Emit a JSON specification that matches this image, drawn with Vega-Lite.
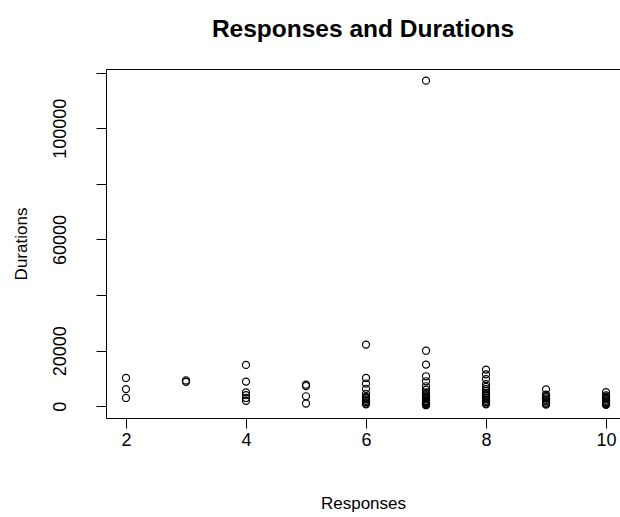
{
  "$schema": "https://vega.github.io/schema/vega-lite/v6.json",
  "autosize": "none",
  "width": 514,
  "height": 349,
  "padding": {"left": 106, "top": 69, "right": 0, "bottom": 99},
  "background": "white",
  "title": {"text": "Responses and Durations", "font": "Liberation Sans", "fontSize": 24.5, "fontWeight": "bold", "color": "black", "offset": 27, "anchor": "middle"},
  "config": {
    "view": {"stroke": "black", "strokeWidth": 1},
    "axis": {"grid": false, "domainColor": "black", "tickColor": "black", "labelColor": "black", "titleColor": "black", "labelFont": "Liberation Sans", "titleFont": "Liberation Sans", "labelFontSize": 18, "titleFontSize": 17, "titleFontWeight": "normal", "tickSize": 10, "labelFlush": false, "labelOverlap": false}
  },
  "data": {"values": [
    {"Responses": 2, "Durations": 10200}, {"Responses": 2, "Durations": 6200}, {"Responses": 2, "Durations": 3000},
    {"Responses": 3, "Durations": 9300}, {"Responses": 3, "Durations": 8800},
    {"Responses": 4, "Durations": 14900}, {"Responses": 4, "Durations": 8900}, {"Responses": 4, "Durations": 5000}, {"Responses": 4, "Durations": 4000}, {"Responses": 4, "Durations": 3000}, {"Responses": 4, "Durations": 2000},
    {"Responses": 5, "Durations": 7800}, {"Responses": 5, "Durations": 7300}, {"Responses": 5, "Durations": 3600}, {"Responses": 5, "Durations": 1000},
    {"Responses": 6, "Durations": 22200}, {"Responses": 6, "Durations": 10200}, {"Responses": 6, "Durations": 8200}, {"Responses": 6, "Durations": 6300}, {"Responses": 6, "Durations": 4500}, {"Responses": 6, "Durations": 3500}, {"Responses": 6, "Durations": 3000}, {"Responses": 6, "Durations": 2500}, {"Responses": 6, "Durations": 2000}, {"Responses": 6, "Durations": 1500}, {"Responses": 6, "Durations": 1000}, {"Responses": 6, "Durations": 700},
    {"Responses": 7, "Durations": 117100}, {"Responses": 7, "Durations": 20000}, {"Responses": 7, "Durations": 15000}, {"Responses": 7, "Durations": 10800}, {"Responses": 7, "Durations": 9000}, {"Responses": 7, "Durations": 7200}, {"Responses": 7, "Durations": 6000}, {"Responses": 7, "Durations": 5000}, {"Responses": 7, "Durations": 4500}, {"Responses": 7, "Durations": 4000}, {"Responses": 7, "Durations": 3500}, {"Responses": 7, "Durations": 3000}, {"Responses": 7, "Durations": 2500}, {"Responses": 7, "Durations": 2000}, {"Responses": 7, "Durations": 1800}, {"Responses": 7, "Durations": 1500}, {"Responses": 7, "Durations": 1200}, {"Responses": 7, "Durations": 1000}, {"Responses": 7, "Durations": 800}, {"Responses": 7, "Durations": 600}, {"Responses": 7, "Durations": 400},
    {"Responses": 8, "Durations": 13200}, {"Responses": 8, "Durations": 11500}, {"Responses": 8, "Durations": 9800}, {"Responses": 8, "Durations": 8000}, {"Responses": 8, "Durations": 7000}, {"Responses": 8, "Durations": 6200}, {"Responses": 8, "Durations": 5500}, {"Responses": 8, "Durations": 4800}, {"Responses": 8, "Durations": 4200}, {"Responses": 8, "Durations": 3600}, {"Responses": 8, "Durations": 3000}, {"Responses": 8, "Durations": 2500}, {"Responses": 8, "Durations": 2000}, {"Responses": 8, "Durations": 1500}, {"Responses": 8, "Durations": 1000}, {"Responses": 8, "Durations": 700},
    {"Responses": 9, "Durations": 6100}, {"Responses": 9, "Durations": 4200}, {"Responses": 9, "Durations": 3800}, {"Responses": 9, "Durations": 3300}, {"Responses": 9, "Durations": 2800}, {"Responses": 9, "Durations": 2300}, {"Responses": 9, "Durations": 1800}, {"Responses": 9, "Durations": 1300}, {"Responses": 9, "Durations": 900}, {"Responses": 9, "Durations": 600},
    {"Responses": 10, "Durations": 5100}, {"Responses": 10, "Durations": 3900}, {"Responses": 10, "Durations": 3400}, {"Responses": 10, "Durations": 3000}, {"Responses": 10, "Durations": 2500}, {"Responses": 10, "Durations": 2000}, {"Responses": 10, "Durations": 1500}, {"Responses": 10, "Durations": 1100}, {"Responses": 10, "Durations": 800}, {"Responses": 10, "Durations": 500}
  ]},
  "mark": {"type": "point", "shape": "circle", "filled": false, "color": "black", "strokeWidth": 1.2, "size": 50, "opacity": 1},
  "encoding": {
    "x": {"field": "Responses", "type": "quantitative", "scale": {"domain": [1.667, 10.233], "nice": false, "zero": false},
      "axis": {"values": [2, 4, 6, 8, 10], "title": "Responses", "labelPadding": 3, "titlePadding": 46, "domain": false}},
    "y": {"field": "Durations", "type": "quantitative", "scale": {"domain": [-4200, 121300], "nice": false, "zero": false},
      "axis": {"values": [0, 20000, 40000, 60000, 80000, 100000, 120000], "labelExpr": "(datum.value == 0 || datum.value == 20000 || datum.value == 60000 || datum.value == 100000) ? datum.value + '' : ''", "labelAngle": -90, "labelAlign": "center", "labelBaseline": "bottom", "labelPadding": 27, "title": "Durations", "titlePadding": 21, "domain": false}}
  }
}
